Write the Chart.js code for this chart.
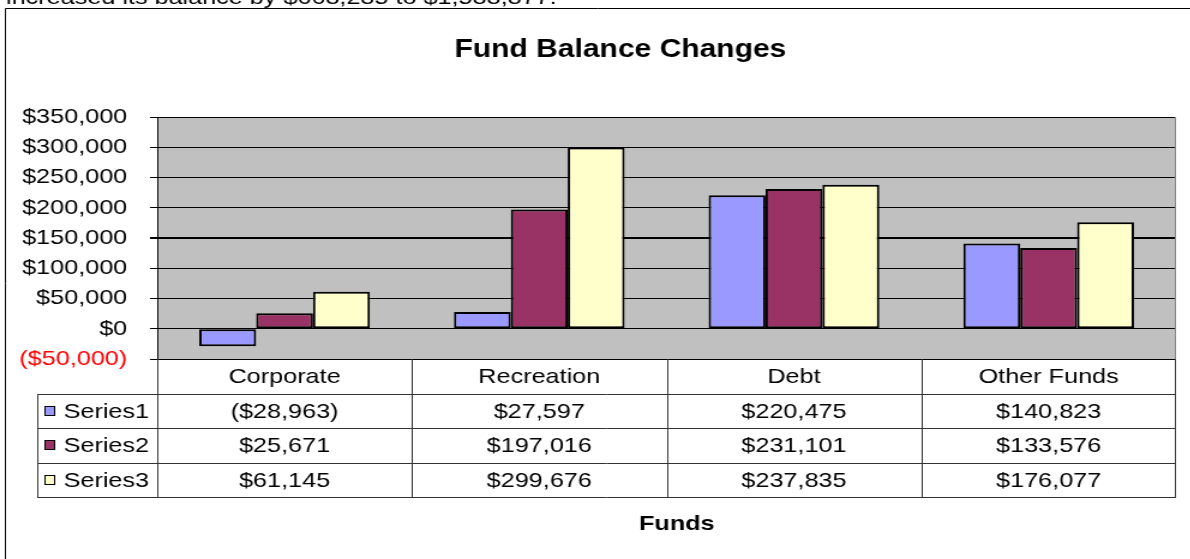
<!DOCTYPE html>
<html>
<head>
<meta charset="utf-8">
<script src="https://cdn.jsdelivr.net/npm/chart.js@4"></script>
<style>
  html, body { margin: 0; padding: 0; background: #fff; overflow: hidden; }
  /* the reference chart is rendered horizontally stretched */
  #wrap { width: 992px; height: 559px; transform: scaleX(1.2); transform-origin: 0 0; }
</style>
</head>
<body>
<div id="wrap"><canvas id="myChart" width="992" height="559"></canvas></div>
<script>
const categories = ['Corporate', 'Recreation', 'Debt', 'Other Funds'];
const seriesNames = ['Series1', 'Series2', 'Series3'];
const series1 = [-28963, 27597, 220475, 140823];
const series2 = [25671, 197016, 231101, 133576];
const series3 = [61145, 299676, 237835, 176077];
const seriesColors = ['#9999FF', '#993366', '#FFFFCC'];
const yMin = -50000;
const yMax = 350000;
const yStep = 50000;

const FONT = '"Liberation Sans", Arial, sans-serif';
const allSeries = [series1, series2, series3];

const money = (v) => {
  const s = '$' + Math.abs(v).toLocaleString('en-US');
  return v < 0 ? '(' + s + ')' : s;
};

const tablePlugin = {
  id: 'dataTable',
  beforeDraw(chart) {
    const { ctx, chartArea: a } = chart;
    ctx.save();
    ctx.fillStyle = '#C0C0C0';
    ctx.fillRect(a.left, a.top, a.right - a.left, a.bottom - a.top);
    ctx.restore();
  },
  afterDraw(chart) {
    const { ctx, chartArea: a } = chart;
    const xs = chart.scales.x;
    const left = Math.round(a.left), right = Math.round(a.right), bottom = Math.round(a.bottom);
    const cw = (right - left) / categories.length;
    const rowH = 34.5;
    const legendLeft = 31;
    const tableBottom = bottom + rowH * 4;

    ctx.save();
    // plot area right edge
    ctx.strokeStyle = '#808080';
    ctx.lineWidth = 1;
    ctx.beginPath();
    ctx.moveTo(right - 0.5, a.top);
    ctx.lineTo(right - 0.5, bottom);
    ctx.stroke();

    // table grid
    ctx.strokeStyle = '#333';
    ctx.beginPath();
    for (let r = 1; r <= 4; r++) {
      const y = Math.round(bottom + r * rowH) + 0.5;
      ctx.moveTo(legendLeft, y);
      ctx.lineTo(right, y);
    }
    for (let c = 0; c <= categories.length; c++) {
      const x = Math.round(left + c * cw) + (c === categories.length ? -0.5 : 0.5);
      ctx.moveTo(x, bottom);
      ctx.lineTo(x, Math.round(tableBottom) + 1);
    }
    ctx.moveTo(legendLeft + 0.5, Math.round(bottom + rowH));
    ctx.lineTo(legendLeft + 0.5, Math.round(tableBottom) + 1);
    ctx.stroke();

    ctx.fillStyle = '#000';
    ctx.font = '21px ' + FONT;
    ctx.textBaseline = 'middle';
    ctx.textAlign = 'center';
    categories.forEach((cat, i) => {
      const x = xs.getPixelForValue(i);
      ctx.fillText(cat, x, bottom + rowH / 2 + 1);
      allSeries.forEach((s, j) => {
        ctx.fillText(money(s[i]), x, bottom + rowH * (j + 1.5) + 1);
      });
    });

    // legend keys
    ctx.textAlign = 'left';
    seriesNames.forEach((name, j) => {
      const cy = bottom + rowH * (j + 1.5);
      ctx.fillStyle = seriesColors[j];
      ctx.fillRect(37.5, Math.round(cy - 5), 8, 10);
      ctx.strokeStyle = '#000';
      ctx.strokeRect(37.5, Math.round(cy - 5) + 0.5, 8, 9);
      ctx.fillStyle = '#000';
      ctx.fillText(name, 53, cy + 1);
    });

    // titles
    ctx.textBaseline = 'alphabetic';
    ctx.textAlign = 'center';
    ctx.font = 'bold 25px ' + FONT;
    ctx.fillText('Fund Balance Changes', 517, 57);
    ctx.font = 'bold 21px ' + FONT;
    ctx.fillText('Funds', 564, 530);

    // outer chart border
    ctx.strokeStyle = '#000';
    ctx.beginPath();
    ctx.moveTo(4.5, chart.height);
    ctx.lineTo(4.5, 8.5);
    ctx.lineTo(chart.width, 8.5);
    ctx.stroke();

    // clipped document text above the chart
    ctx.textAlign = 'left';
    ctx.font = '21px ' + FONT;
    ctx.fillText('increased its balance by $668,285 to $1,588,877.', 5, 4);
    ctx.restore();
  }
};

const ctx = document.getElementById('myChart');

const myChart = new Chart(ctx, {
  type: 'bar',
  data: {
    labels: categories,
    datasets: allSeries.map((d, i) => ({
      label: seriesNames[i],
      data: d,
      backgroundColor: seriesColors[i],
      borderColor: '#000',
      borderWidth: 2,
      borderSkipped: false,
      categoryPercentage: 0.67,
      barPercentage: 1
    }))
  },
  options: {
    responsive: false,
    animation: false,
    devicePixelRatio: 1,
    layout: { padding: { top: 117, right: 12, left: 0, bottom: 0 } },
    plugins: {
      legend: { display: false },
      title: { display: false },
      tooltip: { enabled: false }
    },
    scales: {
      x: {
        grid: { display: false },
        border: { display: false },
        ticks: { display: false },
        afterFit: (s) => { s.height = 200; }
      },
      y: {
        min: yMin,
        max: yMax,
        ticks: {
          stepSize: yStep,
          autoSkip: false,
          padding: 19,
          color: (c) => (c.tick && c.tick.value < 0 ? '#FF0000' : '#000'),
          font: { family: FONT, size: 21 },
          callback: (v) => money(v)
        },
        grid: {
          color: '#000',
          lineWidth: (c) => (c.tick && c.tick.value === 150000 ? 2 : 1),
          tickLength: 6,
          tickColor: '#000'
        },
        border: { color: '#000', width: 1 },
        afterFit: (s) => { s.width = 131; }
      }
    }
  },
  plugins: [tablePlugin]
});
</script>
</body>
</html>
